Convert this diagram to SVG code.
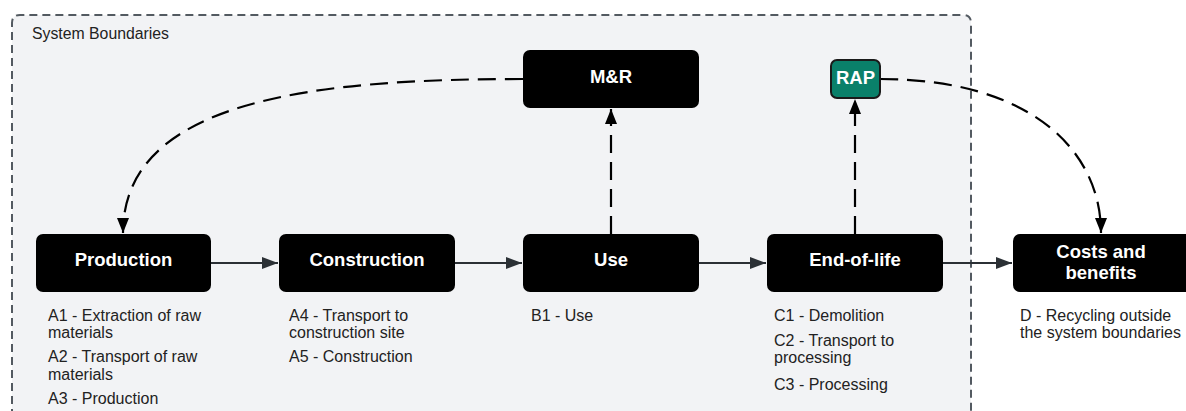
<svg xmlns="http://www.w3.org/2000/svg" width="1186" height="411" viewBox="0 0 1186 411">
  <style>
    .node { fill: #000; }
    .title { font-family: "Liberation Sans", Arial, sans-serif; font-weight: bold; font-size: 18.5px; fill: #fff; text-anchor: middle; }
    .sub { font-family: "Liberation Sans", Arial, sans-serif; font-size: 16px; fill: #222; }
    .flow { fill: none; stroke: #2b3035; stroke-width: 2; }
    .dash { fill: none; stroke: #000; stroke-width: 2.2; stroke-dasharray: 18 9; }
  </style>
  <defs>
    <marker id="solidHead" viewBox="0 0 16 12" refX="16" refY="6" markerWidth="16" markerHeight="12" markerUnits="userSpaceOnUse" orient="auto">
      <path d="M0,0 L16,6 L0,12 Z" fill="#2b3035"/>
    </marker>
    <marker id="dashHead" viewBox="0 0 15 12" refX="15" refY="6" markerWidth="15" markerHeight="12" markerUnits="userSpaceOnUse" orient="auto">
      <path d="M0,0 L15,6 L0,12 Z" fill="#000"/>
    </marker>
  </defs>

  <rect width="1186" height="411" fill="#fff"/>

  <!-- system boundary -->
  <g id="boundary">
    <path d="M12,430 V23 Q12,15 20,15 H963 Q971,15 971,23 V430" fill="#f2f3f5" stroke="#535a61" stroke-width="2" stroke-dasharray="8 5"/>
    <text x="32" y="39" font-family="Liberation Sans, Arial, sans-serif" font-size="15.8" fill="#222">System Boundaries</text>
  </g>

  <!-- connectors -->
  <g id="connectors">
    <path class="flow" d="M211,263 H278" marker-end="url(#solidHead)"/>
    <path class="flow" d="M455,263 H522" marker-end="url(#solidHead)"/>
    <path class="flow" d="M699,263 H766" marker-end="url(#solidHead)"/>
    <path class="flow" d="M943,263 H1012" marker-end="url(#solidHead)"/>
    <path class="dash" d="M611,234 V109" stroke-dasharray="16 11 52 13 60" marker-end="url(#dashHead)"/>
    <path class="dash" d="M855,234 V99" stroke-dasharray="16 13 57 15 60" marker-end="url(#dashHead)"/>
    <path class="dash" d="M523,79 C320,79 123,98 123,233" marker-end="url(#dashHead)"/>
    <path class="dash" d="M880,79 C1030,79 1101,150 1101,233" marker-end="url(#dashHead)"/>
  </g>

  <!-- nodes -->
  <g id="production">
    <rect class="node" x="36" y="234" width="175" height="58" rx="7"/>
    <text class="title" x="123.5" y="266">Production</text>
    <text class="sub" x="48" y="321">A1 - Extraction of raw</text>
    <text class="sub" x="48" y="338">materials</text>
    <text class="sub" x="48" y="362">A2 - Transport of raw</text>
    <text class="sub" x="48" y="380">materials</text>
    <text class="sub" x="48" y="404">A3 - Production</text>
  </g>
  <g id="construction">
    <rect class="node" x="279" y="234" width="176" height="58" rx="7"/>
    <text class="title" x="367" y="266">Construction</text>
    <text class="sub" x="289" y="321">A4 - Transport to</text>
    <text class="sub" x="289" y="338">construction site</text>
    <text class="sub" x="289" y="362">A5 - Construction</text>
  </g>
  <g id="use">
    <rect class="node" x="523" y="234" width="176" height="58" rx="7"/>
    <text class="title" x="611" y="266">Use</text>
    <text class="sub" x="531" y="321">B1 - Use</text>
  </g>
  <g id="end-of-life">
    <rect class="node" x="767" y="234" width="176" height="58" rx="7"/>
    <text class="title" x="855" y="266">End-of-life</text>
    <text class="sub" x="774" y="321">C1 - Demolition</text>
    <text class="sub" x="774" y="346">C2 - Transport to</text>
    <text class="sub" x="774" y="363">processing</text>
    <text class="sub" x="774" y="390">C3 - Processing</text>
  </g>
  <g id="costs-benefits">
    <rect class="node" x="1013" y="234" width="180" height="58" rx="7"/>
    <text class="title" x="1101" y="258">Costs and</text>
    <text class="title" x="1101" y="279">benefits</text>
    <text class="sub" x="1020" y="321">D - Recycling outside</text>
    <text class="sub" x="1020" y="338">the system boundaries</text>
  </g>
  <g id="m-and-r">
    <rect class="node" x="523" y="50" width="176" height="58" rx="7"/>
    <text class="title" x="611" y="83">M&amp;R</text>
  </g>
  <g id="rap">
    <rect x="831" y="60" width="49" height="38" rx="6" fill="#0a806a" stroke="#1a1a1a" stroke-width="2"/>
    <text class="title" x="855.5" y="83.5" font-size="14">RAP</text>
  </g>
</svg>
